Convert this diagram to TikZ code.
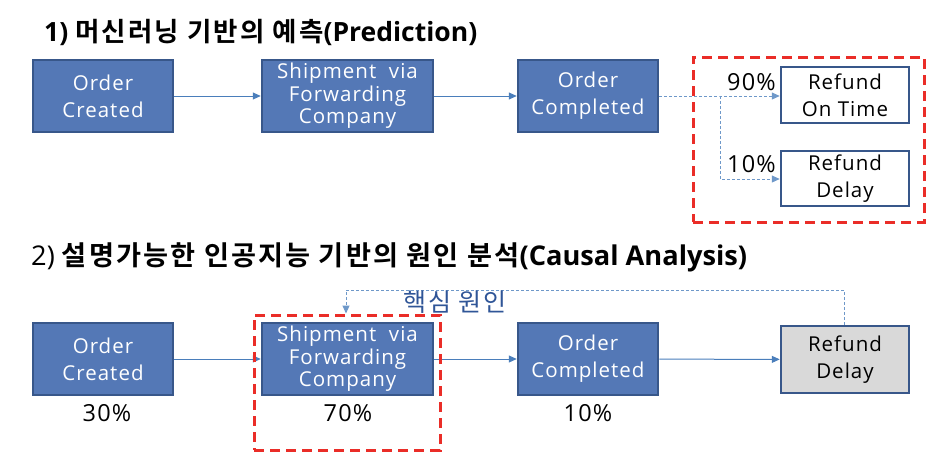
\documentclass[tikz,border=0pt]{standalone}
\usepackage{fontspec}
\setmainfont{Open Sans}
\newfontfamily\krb[LetterSpace=8]{Noto Sans CJK KR Bold}
\newfontfamily\latb{Open Sans Bold}
\newfontfamily\boxfont[LetterSpace=5]{Open Sans}
\newfontfamily\keyfont[LetterSpace=8]{Noto Sans CJK KR}
\usetikzlibrary{arrows.meta}
\definecolor{boxfill}{RGB}{84,120,182}
\definecolor{boxline}{RGB}{56,87,138}
\definecolor{conn}{RGB}{74,126,187}
\definecolor{redd}{RGB}{234,45,40}
\definecolor{graybox}{RGB}{217,217,217}
\definecolor{labblue}{RGB}{47,85,151}
\tikzset{
  boxbase/.style={draw=boxline, line width=2.5pt, align=center,
    font=\boxfont\fontsize{20.5}{27}\selectfont, inner sep=0pt},
  bluebox/.style={boxbase, fill=boxfill, text=white},
  whitebox/.style={boxbase, fill=white, text=black},
  graysbox/.style={boxbase, fill=graybox, text=black},
  threeline/.style={font=\boxfont\fontsize{20.5}{22.5}\selectfont},
  conna/.style={draw=conn, line width=1pt, -{Triangle[length=8pt,width=7pt]}},
  connd/.style={draw=conn!80, line width=1pt, dash pattern=on 3pt off 2pt, -{Triangle[length=8pt,width=7pt]}},
  reddash/.style={draw=redd, line width=3pt, dash pattern=on 10pt off 6pt},
  titlefont/.style={font=\fontsize{26.5}{30}\selectfont, anchor=west, inner sep=0pt},
  pct/.style={font=\boxfont\fontsize{23.5}{26}\selectfont, inner sep=0pt}
}
\begin{document}
\begin{tikzpicture}[x=1pt,y=-1pt]
\useasboundingbox (0,0) rectangle (945,463);
% titles
\node[titlefont] (t1) at (44,32) {\latb 1) \krb 머신러닝 기반의 예측\latb(Prediction)};
\node[titlefont, font=\fontsize{27.2}{30}\selectfont] (t2) at (31,257) {2) \krb 설명가능한 인공지능 기반의 원인 분석\latb(Causal Analysis)};
% row 1
\node[bluebox, minimum width=140pt, minimum height=72pt] (oc1) at (103,96) {Order\\Created};
\node[bluebox, threeline, minimum width=171pt, minimum height=72pt] (sh1) at (347.5,96) {Shipment\ \ via\\Forwarding\\Company};
\node[bluebox, minimum width=140pt, minimum height=72pt] (co1) at (588,96) {Order\\Completed};
\node[whitebox, minimum width=128pt, minimum height=56pt] (rt) at (845,95) {Refund\\On Time};
\node[whitebox, minimum width=128pt, minimum height=55pt] (rd1) at (845,178.5) {Refund\\Delay};
\draw[conna] (oc1) -- (sh1);
\draw[conna] (sh1) -- (co1);
\coordinate (split) at (720,96);
\draw[connd] (co1.east) -- (split) -- (rt.west |- split);
\draw[connd] (split) |- (rd1.west |- 0,179);
\node[pct, anchor=east] (p90) at (776,82) {90\%};
\node[pct, anchor=east] (p10) at (776,164) {10\%};
\node[reddash, minimum width=231pt, minimum height=165pt, inner sep=0pt] (rb1) at (808.5,139.5) {};
% row 2
\node[bluebox, minimum width=140pt, minimum height=72pt] (oc2) at (103,359) {Order\\Created};
\node[bluebox, threeline, minimum width=171pt, minimum height=72pt] (sh2) at (347.5,359) {Shipment\ \ via\\Forwarding\\Company};
\node[bluebox, minimum width=140pt, minimum height=72pt] (co2) at (588,359) {Order\\Completed};
\node[graysbox, minimum width=128pt, minimum height=67pt] (rd2) at (845,359.5) {Refund\\Delay};
\draw[conna] (oc2) -- (sh2);
\draw[conna] (sh2) -- (co2);
\draw[conna] (co2) -- (rd2);
\node[pct] (p30) at (107,413) {30\%};
\node[pct] (p70) at (348,413) {70\%};
\node[pct] (p10b) at (588,413) {10\%};
\node[reddash, minimum width=186pt, minimum height=135pt, inner sep=0pt] (rb2) at (347,382.5) {};
\coordinate (fbtop) at (844,290);
\draw[connd] (rd2.north -| fbtop) -- (fbtop) -| (rb2.north -| 346,0);
\node[font=\keyfont\fontsize{25}{28}\selectfont, text=labblue, inner sep=0pt] (key) at (455,302) {핵심 원인};
\end{tikzpicture}
\end{document}
